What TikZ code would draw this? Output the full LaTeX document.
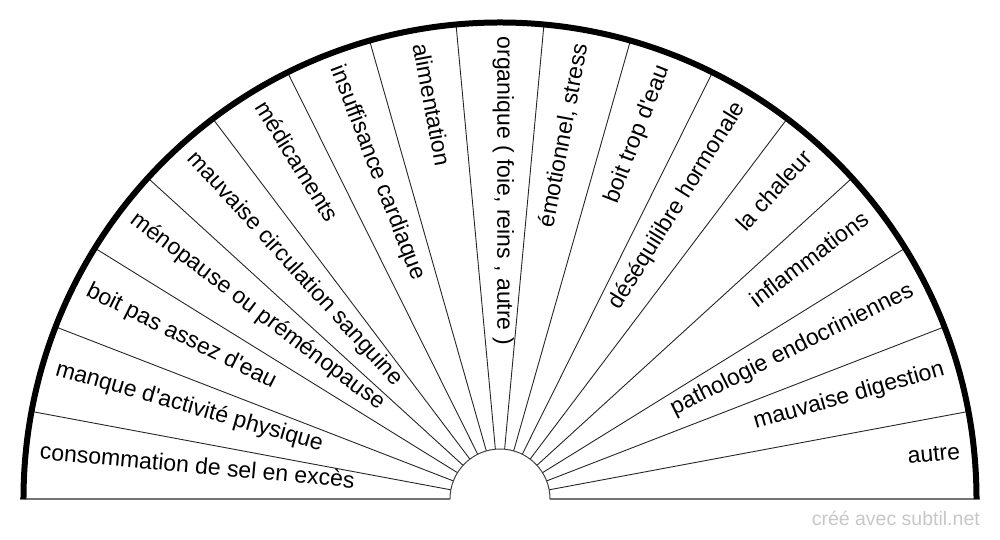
\documentclass[tikz,border=0pt]{standalone}
\usepackage{fontspec}
\setmainfont{Liberation Sans}
\begin{document}
\begin{tikzpicture}[x=1pt,y=1pt,
  lbl/.style={font=\fontsize{23}{27}\selectfont, inner sep=0pt, text=black},
  ray/.style={line width=0.9pt, draw=black!85},
  rim/.style={line width=6pt, draw=black},
  base/.style={line width=1.5pt, draw=black!55},
  hub/.style={line width=1pt, draw=black!75},
  wmark/.style={font=\fontsize{19.5}{23}\selectfont, inner sep=0pt, text=black!22}]
\useasboundingbox (-500,-41) rectangle (500,499);
\def\A{10.588235}
% rays
\foreach \k in {1,...,16} \draw[ray] (180-\k*\A:50) -- (180-\k*\A:476);
% base line
\coordinate (bl) at (-479.5,0);
\coordinate (il) at (-50,0);
\coordinate (ir) at (50,0);
\coordinate (br) at (479.5,0);
\draw[base] (bl) -- (il);
\draw[base] (ir) -- (br);
% hub
\draw[hub] (il) arc[start angle=180, end angle=0, radius=50];
% rim
\draw[rim] (-476.5,0) arc[start angle=180, end angle=0, radius=476.5];
% labels
\foreach \t [count=\i from 0] in {
  {consommation de sel en excès},
  {manque d\textquotesingle{}activité physique},
  {boit pas assez d\textquotesingle{}eau},
  {ménopause ou préménopause},
  {mauvaise circulation sanguine},
  {médicaments},
  {insuffisance cardiaque},
  {alimentation},
  {organique ( foie, reins , autre )},
  {émotionnel, stress},
  {boit trop d\textquotesingle{}eau},
  {déséquilibre hormonale},
  {la chaleur},
  {inflammations},
  {pathologie endocriniennes},
  {mauvaise digestion},
  {autre}} {
  \pgfmathsetmacro\ang{180-(\i+0.5)*\A}
  \ifnum\i<9
    \node[lbl, anchor=mid west, rotate=\ang-180] (l\i) at (\ang:462.5) {\t};
  \else
    \node[lbl, anchor=mid east, rotate=\ang] (l\i) at (\ang:462.5) {\t};
  \fi
}
\node[wmark, anchor=base east] (wm) at (480,-26.7) {créé avec subtil.net};
\end{tikzpicture}
\end{document}
